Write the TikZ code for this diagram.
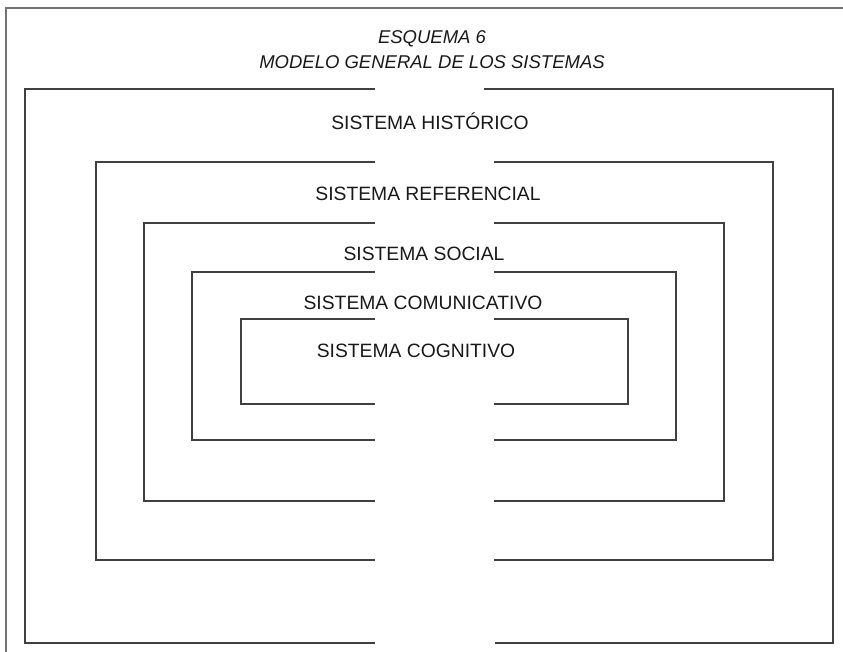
\documentclass[tikz,border=0pt]{standalone}
\usepackage{fontspec}
\setmainfont{Liberation Sans}
\usepackage{tikz}

\begin{document}
\begin{tikzpicture}[x=1pt, y=-1pt,
		wall/.style={line width=1.4pt, draw=black!75},
		frame/.style={line width=1.2pt, draw=black!55},
		label/.style={inner sep=0pt, font=\fontsize{19.3}{23}\selectfont, text=black!90},
		heading/.style={inner sep=0pt, font=\fontsize{18.5}{22}\selectfont\itshape, text=black!90}]
		\useasboundingbox (0,0) rectangle (843,652);
		
		% frame of the page
		\draw[frame] (843,8) -- (6,8) -- (6,652);
		
		\node[heading] (esquema) at (432,39) {ESQUEMA 6};
		\node[heading] (modelo) at (432,62) {MODELO GENERAL DE LOS SISTEMAS};
		
		% historico
		\draw[wall] (375,89) -- (25,89) -- (25,643) -- (375,643);
		\draw[wall] (484,89) -- (833,89) -- (833,643) -- (495,643);
		% referencial
		\draw[wall] (375,162) -- (96,162) -- (96,560) -- (375,560);
		\draw[wall] (494,162) -- (773,162) -- (773,560) -- (494,560);
		% social
		\draw[wall] (375,223) -- (144,223) -- (144,501) -- (375,501);
		\draw[wall] (494,223) -- (724,223) -- (724,501) -- (494,501);
		% comunicativo
		\draw[wall] (375,272) -- (192,272) -- (192,440) -- (375,440);
		\draw[wall] (494,272) -- (676,272) -- (676,440) -- (494,440);
		% cognitivo
		\draw[wall] (375,319) -- (241,319) -- (241,404) -- (375,404);
		\draw[wall] (494,319) -- (628,319) -- (628,404) -- (494,404);
		
		\node[label] (historico) at (430,121) {SISTEMA HISTÓRICO};
		\node[label] (referencial) at (428,194) {SISTEMA REFERENCIAL};
		\node[label] (social) at (424,254) {SISTEMA SOCIAL};
		\node[label] (comunicativo) at (423,303) {SISTEMA COMUNICATIVO};
		\node[label] (cognitivo) at (416,351) {SISTEMA COGNITIVO};
\end{tikzpicture}
\end{document}
